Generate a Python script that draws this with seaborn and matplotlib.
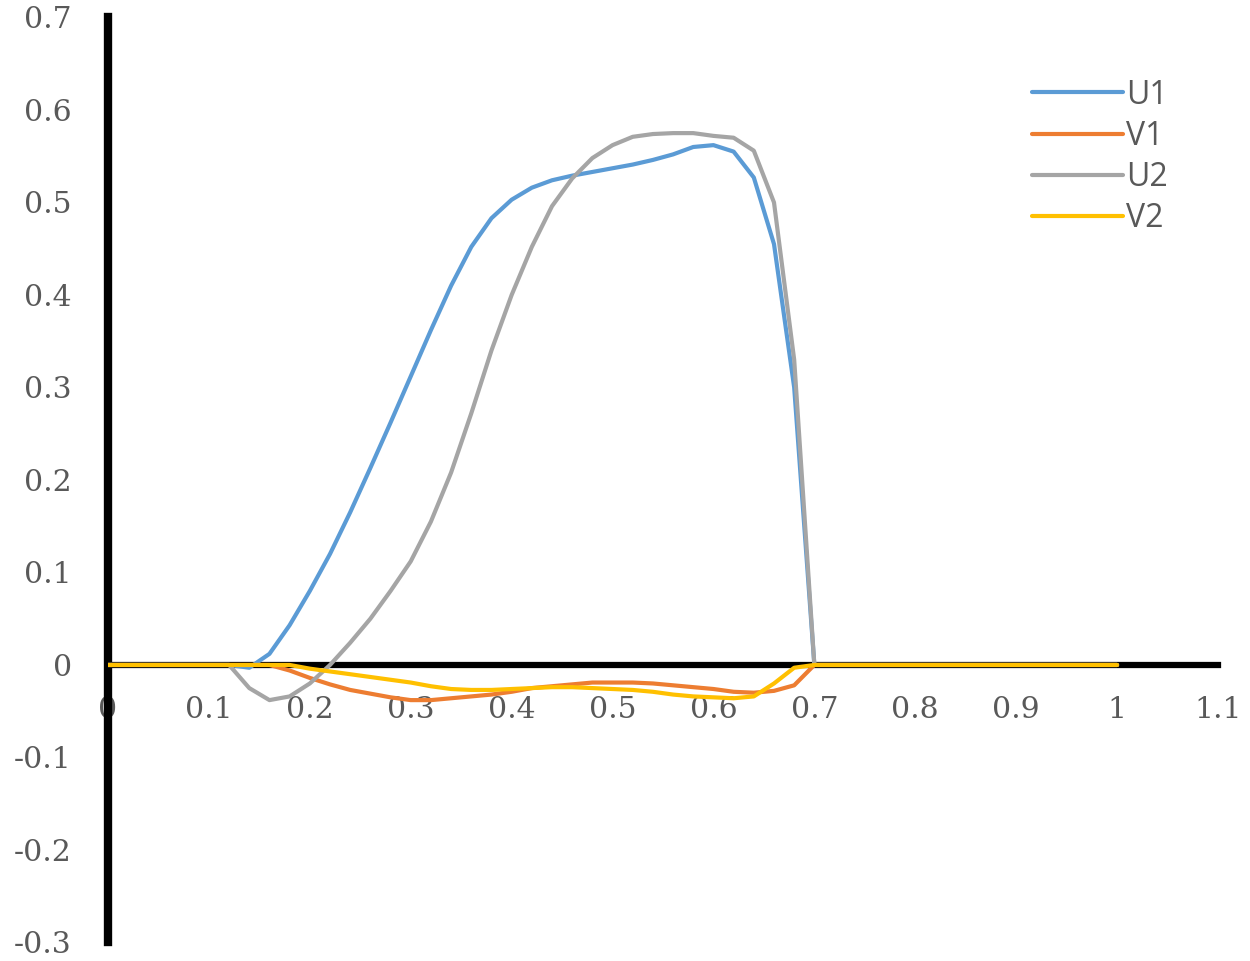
import pandas as pd
import matplotlib
matplotlib.use("Agg")
import matplotlib.pyplot as plt
import seaborn as sns

# ── data ────────────────────────────────────────────────
x = [0, 0.10, 0.12, 0.14, 0.16, 0.18, 0.20, 0.22, 0.24, 0.26, 0.28,
     0.30, 0.32, 0.34, 0.36, 0.38, 0.40, 0.42, 0.44, 0.46, 0.48,
     0.50, 0.52, 0.54, 0.56, 0.58, 0.60, 0.62, 0.64, 0.66, 0.68,
     0.70, 1.00]

u1 = [0, 0, 0, -0.003, 0.012, 0.043, 0.080, 0.120, 0.165, 0.213, 0.262,
      0.312, 0.362, 0.410, 0.452, 0.483, 0.503, 0.516, 0.524, 0.529, 0.533,
      0.537, 0.541, 0.546, 0.552, 0.560, 0.562, 0.555, 0.527, 0.455, 0.300,
      0, 0]

v1 = [0, 0, 0, 0, 0, -0.006, -0.014, -0.021, -0.027, -0.031, -0.035,
      -0.038, -0.038, -0.036, -0.034, -0.032, -0.029, -0.025, -0.023, -0.021, -0.019,
      -0.019, -0.019, -0.020, -0.022, -0.024, -0.026, -0.029, -0.030, -0.028, -0.022,
      0, 0]

u2 = [0, 0, 0, -0.025, -0.038, -0.034, -0.020, 0.000, 0.024, 0.050, 0.080,
      0.112, 0.155, 0.208, 0.272, 0.340, 0.400, 0.452, 0.496, 0.526, 0.548,
      0.562, 0.571, 0.574, 0.575, 0.575, 0.572, 0.570, 0.556, 0.500, 0.330,
      0, 0]

v2 = [0, 0, 0, 0, 0, 0, -0.004, -0.007, -0.010, -0.013, -0.016,
      -0.019, -0.023, -0.026, -0.027, -0.027, -0.026, -0.025, -0.024, -0.024, -0.025,
      -0.026, -0.027, -0.029, -0.032, -0.034, -0.035, -0.036, -0.034, -0.020, -0.003,
      0, 0]

series_names = ["U1", "V1", "U2", "V2"]
colors = ["#5B9BD5", "#ED7D31", "#A5A5A5", "#FFC000"]

x_ticks = [0, 0.1, 0.2, 0.3, 0.4, 0.5, 0.6, 0.7, 0.8, 0.9, 1, 1.1]
x_labels = ["0", "0.1", "0.2", "0.3", "0.4", "0.5", "0.6", "0.7", "0.8", "0.9", "1", "1.1"]
y_ticks = [-0.3, -0.2, -0.1, 0, 0.1, 0.2, 0.3, 0.4, 0.5, 0.6, 0.7]
y_labels = ["-0.3", "-0.2", "-0.1", "0", "0.1", "0.2", "0.3", "0.4", "0.5", "0.6", "0.7"]

# long-form table for seaborn
df = pd.concat(
    [pd.DataFrame({"x": x, "y": vals, "series": name})
     for name, vals in zip(series_names, [u1, v1, u2, v2])],
    ignore_index=True,
)

# ── plot ─────────────────────────────────────────────────
sns.set_style("white")
plt.rcParams["font.family"] = ["DejaVu Serif"]

fig = plt.figure(figsize=(12.5, 9.61), dpi=100)
ax = fig.add_axes([0.0864, 0.0193, 0.888, 0.9625])

sns.lineplot(data=df, x="x", y="y", hue="series", hue_order=series_names,
             palette=colors, linewidth=3, estimator=None, sort=False,
             ax=ax, zorder=3)

ax.set_xlim(0, 1.1)
ax.set_ylim(-0.3, 0.7)
ax.set_xlabel("")
ax.set_ylabel("")

ax.spines["top"].set_visible(False)
ax.spines["right"].set_visible(False)
ax.spines["bottom"].set_position(("data", 0))
ax.spines["bottom"].set_linewidth(4.5)
ax.spines["left"].set_linewidth(6)
for s in ("bottom", "left"):
    ax.spines[s].set_color("black")
    ax.spines[s].set_zorder(2)

ax.set_xticks(x_ticks)
ax.set_xticklabels(x_labels)
ax.set_yticks(y_ticks)
ax.set_yticklabels(y_labels)
ax.tick_params(axis="x", length=0, pad=22, labelsize=21.5, labelcolor="#595959")
ax.tick_params(axis="y", length=0, pad=26, labelsize=21.5, labelcolor="#595959")

leg = ax.legend(loc="upper left", bbox_to_anchor=(0.832, 0.934), frameon=False,
                handlelength=2.85, handletextpad=0.12,
                labelspacing=0.26, borderpad=0, borderaxespad=0,
                prop={"family": "Open Sans", "size": 23})
for t in leg.get_texts():
    t.set_color("#595959")
for h in leg.get_lines():
    h.set_linewidth(3)

fig.savefig("out.png", dpi=100)
